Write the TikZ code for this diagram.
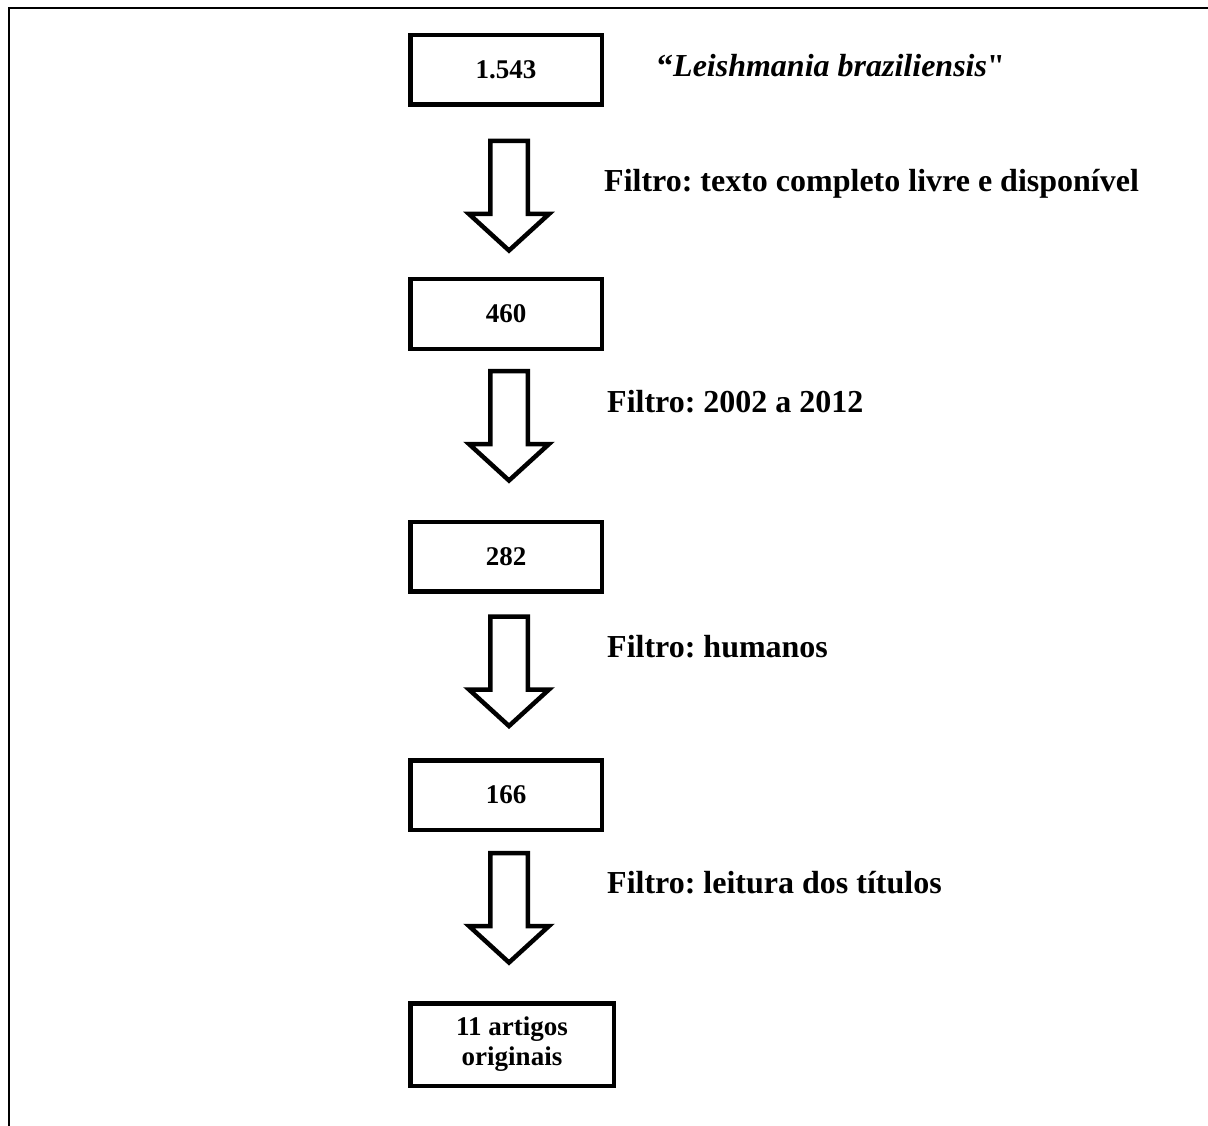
\documentclass[tikz,border=0pt]{standalone}
\usepackage{fontspec}
\setmainfont{Liberation Serif}
\newfontfamily\aspas{Liberation Serif}
\usepackage{tikz}
\usetikzlibrary{calc}
\frenchspacing
\tikzset{
    caixa/.style={
        rectangle,
        draw=black, line width=4.5pt,
        minimum width=191.5pt,
        minimum height=69.5pt,
        inner sep=0pt,
        align=center,
        font={\fontsize{27pt}{30pt}\selectfont\bfseries}
    },
    filtro/.style={
        anchor=base west,
        inner sep=0pt,
        font={\fontsize{32pt}{38pt}\selectfont\bfseries}
    },
    seta/.style={draw=black, line width=4.5pt, fill=white, miter limit=10},
    moldura/.style={draw=black, line width=2.2pt},
}

\begin{document}
\begin{tikzpicture}[x=1pt,y=-1pt]
\useasboundingbox (0,0) rectangle (1208,1126);
\draw[moldura] (9,1126) -- (9,7.8) -- (1208,7.8);
% caixas
\node[caixa] (n1543) at (506,70) {1.543};
\node[caixa] (n460) at (506,314) {460};
\node[caixa] (n282) at (506,556.5) {282};
\node[caixa] (n166) at (506,795) {166};
\node[caixa, minimum width=203.5pt, minimum height=82.5pt] (nfinal) at (512,1044.5) {11 artigos\\originais};
% setas
\foreach \a/\d in {n1543/34, n460/20, n282/23, n166/21}
    \draw[seta] ($(\a.south)+(-15.75,\d)$) -- ++(0,73) -- ++(-21.25,0)
        -- ++(40,36.5) -- ++(40,-36.5) -- ++(-21.25,0) -- ++(0,-73) -- cycle;
% filtros
\node[filtro] (tbusca) at (657,77) {“\textit{Leishmania braziliensis}{\aspas\bfseries "}};
\node[filtro] (ttexto) at (604,192) {Filtro: texto completo livre e disponível};
\node[filtro] (tano) at (607,412) {Filtro: 2002 a 2012};
\node[filtro] (thumano) at (607,657) {Filtro: humanos};
\node[filtro] (ttitulo) at (607,893) {Filtro: leitura dos títulos};
\end{tikzpicture}
\end{document}
